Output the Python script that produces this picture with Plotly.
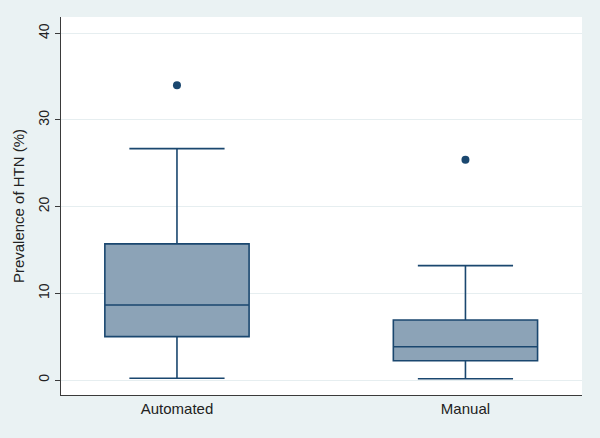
import plotly.graph_objects as go

categories = ["Automated", "Manual"]
lower_whisker = [0.2, 0.15]
q1_vals = [5.0, 2.23]
median_vals = [8.65, 3.84]
q3_vals = [15.7, 6.92]
upper_whisker = [26.7, 13.2]
outlier_cats = ["Automated", "Manual"]
outlier_vals = [34.0, 25.4]
y_ticks = [0, 10, 20, 30, 40]

navy = "#1A476F"
fill = "#8CA3B7"
bg = "#EAF2F3"

fig = go.Figure()
fig.add_trace(go.Box(
    x=categories,
    q1=q1_vals, median=median_vals, q3=q3_vals,
    lowerfence=lower_whisker, upperfence=upper_whisker,
    fillcolor=fill,
    line=dict(color=navy, width=1.6),
    width=0.5,
    whiskerwidth=0.66,
    boxpoints=False,
    showlegend=False,
    hoverinfo="skip",
))
fig.add_trace(go.Scatter(
    x=outlier_cats, y=outlier_vals, mode="markers",
    marker=dict(color=navy, size=8, symbol="circle"),
    showlegend=False,
))

fig.update_layout(
    width=600, height=438,
    paper_bgcolor=bg, plot_bgcolor="white",
    margin=dict(l=61, r=18, t=17, b=43),
    font=dict(family="Liberation Sans, Arial, sans-serif", size=15, color="#222222"),
)
fig.update_xaxes(
    type="category", range=[-0.402, 1.404],
    showline=True, linecolor="#3a3a3a", linewidth=1,
    ticks="", showgrid=False, zeroline=False,
    tickfont=dict(size=15, color="#222222"),
)
fig.update_yaxes(
    range=[-1.73, 41.88], tickvals=y_ticks,
    showline=True, linecolor="#3a3a3a", linewidth=1,
    ticks="outside", ticklen=5, tickcolor="#3a3a3a",
    tickangle=-90,
    showgrid=True, gridcolor="#E6EEF0", gridwidth=1, zeroline=False,
    tickfont=dict(size=14, color="#222222"),
    title=dict(text="Prevalence of HTN (%)", font=dict(size=15, color="#222222"), standoff=8),
)

fig.write_html("out.html", config={"displayModeBar": False},
               post_script="document.body.style.margin='0';document.body.style.padding='0';")
